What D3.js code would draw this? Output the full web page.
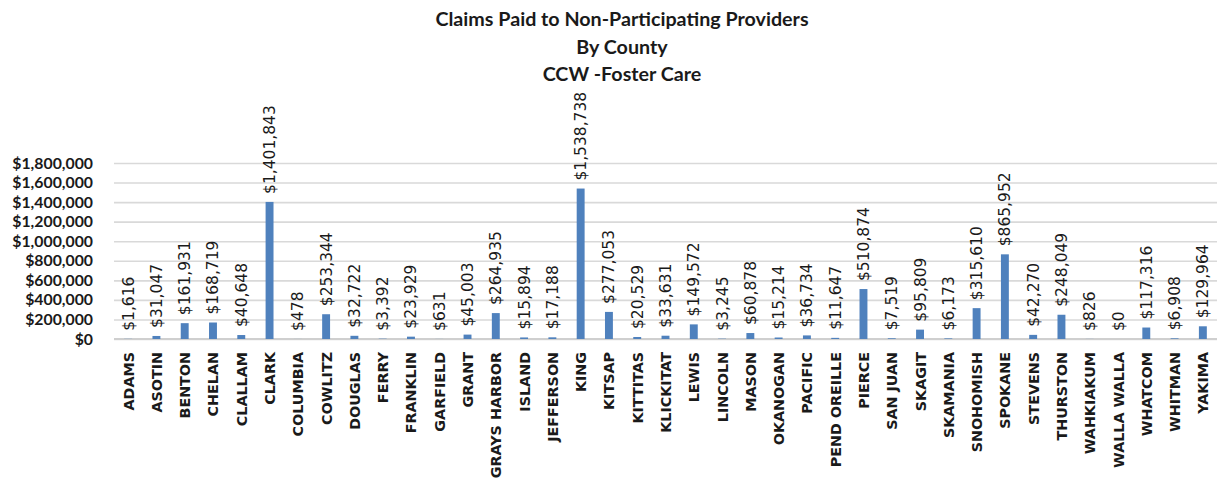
<!DOCTYPE html>
<html>
<head>
<meta charset="utf-8">
<script src="https://cdn.jsdelivr.net/npm/d3@7"></script>
<style>
  body { margin: 0; background: #fff; }
  svg { display: block; }
</style>
</head>
<body>
<svg id="chart" width="1218" height="481"></svg>
<script>
var titleLines = ["Claims Paid to Non-Participating Providers", "By County", "CCW -Foster Care"];

var counties = ["ADAMS", "ASOTIN", "BENTON", "CHELAN", "CLALLAM", "CLARK", "COLUMBIA", "COWLITZ",
    "DOUGLAS", "FERRY", "FRANKLIN", "GARFIELD", "GRANT", "GRAYS HARBOR", "ISLAND", "JEFFERSON",
    "KING", "KITSAP", "KITTITAS", "KLICKITAT", "LEWIS", "LINCOLN", "MASON", "OKANOGAN", "PACIFIC",
    "PEND OREILLE", "PIERCE", "SAN JUAN", "SKAGIT", "SKAMANIA", "SNOHOMISH", "SPOKANE", "STEVENS",
    "THURSTON", "WAHKIAKUM", "WALLA WALLA", "WHATCOM", "WHITMAN", "YAKIMA"];

var claimsPaid = [1616, 31047, 161931, 168719, 40648, 1401843, 478, 253344,
    32722, 3392, 23929, 631, 45003, 264935, 15894, 17188,
    1538738, 277053, 20529, 33631, 149572, 3245, 60878, 15214, 36734,
    11647, 510874, 7519, 95809, 6173, 315610, 865952, 42270,
    248049, 826, 0, 117316, 6908, 129964];

var yTicks = [0, 200000, 400000, 600000, 800000, 1000000, 1200000, 1400000, 1600000, 1800000];

var margin = {left: 114, right: 1, top: 163, bottom: 339};
var svg = d3.select("#chart");

var x = d3.scaleBand().domain(counties).range([margin.left, 1218 - margin.right]).paddingInner(0.72).paddingOuter(0.36);
var y = d3.scaleLinear().domain([0, 1800000]).range([margin.bottom, margin.top]);

var money = d3.format("$,.0f");

// title
svg.append("g").selectAll("text").data(titleLines).enter().append("text")
    .attr("x", 622).attr("y", function (d, i) { return 26 + i * 27.5; })
    .attr("text-anchor", "middle")
    .style("font-family", "Lato, 'Open Sans', sans-serif")
    .style("font-weight", "bold").style("font-size", "19.7px").style("fill", "#1a1a1a")
    .text(function (d) { return d; });

// gridlines + y labels
var yAxis = d3.axisLeft(y).tickValues(yTicks).tickFormat(money)
    .tickSize(-(1218 - margin.right - margin.left)).tickPadding(21);
var ya = svg.append("g").attr("transform", "translate(" + margin.left + ",0)").call(yAxis);
ya.select(".domain").remove();
ya.selectAll(".tick line").attr("stroke", "#d9d9d9").attr("stroke-width", 1.6);
ya.selectAll(".tick text")
    .style("font-family", "Lato, 'Open Sans', sans-serif")
    .style("font-weight", "bold").style("font-size", "15.8px").style("fill", "#1a1a1a");

// baseline
svg.append("line").attr("x1", margin.left).attr("x2", 1218 - margin.right)
    .attr("y1", y(0)).attr("y2", y(0)).attr("stroke", "#cfcfcf").attr("stroke-width", 2);

// bars
svg.append("g").selectAll("rect").data(counties).enter().append("rect")
    .attr("x", function (d) { return x(d); })
    .attr("width", x.bandwidth())
    .attr("y", function (d, i) { return y(claimsPaid[i]); })
    .attr("height", function (d, i) { return y(0) - y(claimsPaid[i]); })
    .attr("fill", "#4f81bd");

// data labels
svg.append("g").selectAll("text").data(counties).enter().append("text")
    .attr("transform", function (d, i) {
        return "translate(" + (x(d) + x.bandwidth() / 2 + 5.5) + "," + (y(claimsPaid[i]) - 8) + ") rotate(-90)";
    })
    .style("font-family", "'DejaVu Sans', sans-serif")
    .style("font-size", "15.5px").style("fill", "#1a1a1a")
    .text(function (d, i) { return money(claimsPaid[i]); });

// x labels
var xAxis = d3.axisBottom(x).tickSize(0).tickPadding(0);
var xa = svg.append("g").attr("transform", "translate(0," + y(0) + ")").call(xAxis);
xa.select(".domain").remove();
xa.selectAll(".tick text")
    .attr("transform", "translate(5.5,13) rotate(-90)")
    .attr("text-anchor", "end").attr("dy", 0).attr("y", 0)
    .style("font-family", "'DejaVu Sans', sans-serif")
    .style("font-weight", "bold").style("font-size", "14.3px").style("fill", "#1a1a1a");
</script>
</body>
</html>
